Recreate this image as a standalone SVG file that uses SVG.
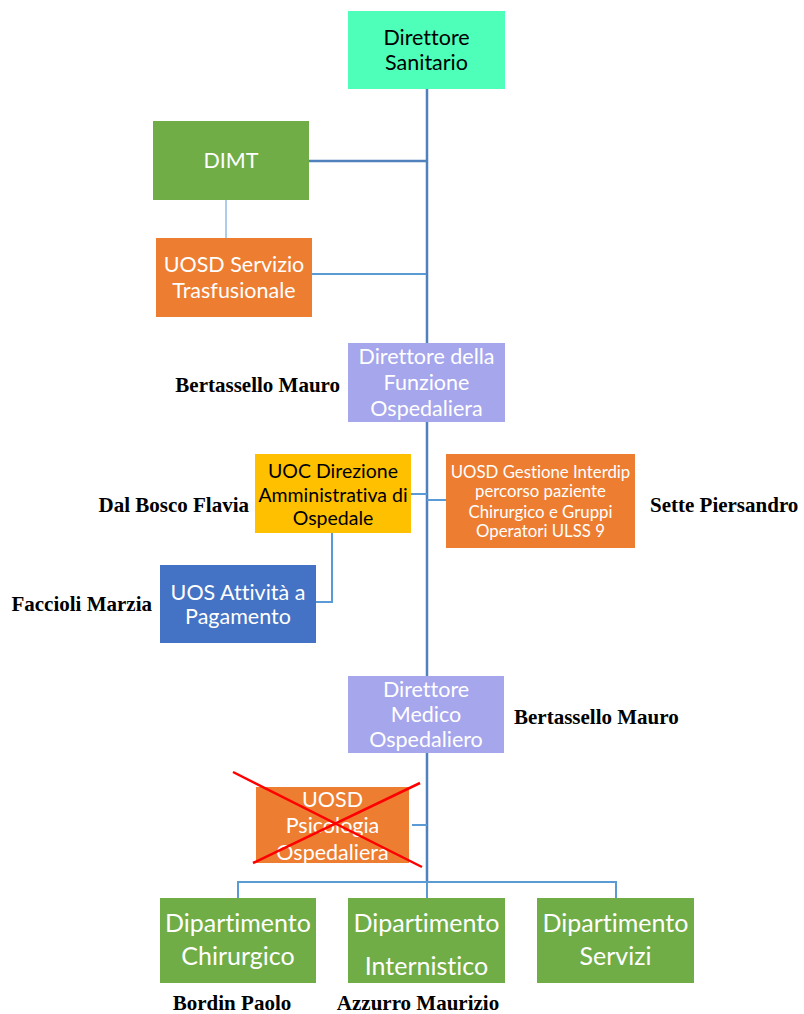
<svg xmlns="http://www.w3.org/2000/svg" width="804" height="1014" viewBox="0 0 804 1014">
<style>
.t{font-family:Lato,"Open Sans",sans-serif;text-anchor:middle;dominant-baseline:central;font-variant-ligatures:none}
.w{fill:#ffffff}
.k{fill:#000000}
.n{font-family:"Liberation Serif",serif;font-weight:bold;font-size:21px;fill:#000;dominant-baseline:central}
.c{fill:none;stroke:#4f81bd;stroke-width:2.5}
.c2{fill:none;stroke:#5b9bd5;stroke-width:2}
.c1{fill:none;stroke:#5b9bd5;stroke-width:1}
</style>
<rect width="804" height="1014" fill="#ffffff"/>
<g id="connectors">
<line class="c" x1="427" y1="89" x2="427" y2="883"/>
<line class="c" x1="309" y1="161" x2="427" y2="161"/>
<line class="c1" x1="226" y1="200" x2="226" y2="238"/>
<line class="c2" x1="312" y1="274" x2="426" y2="274"/>
<line class="c2" x1="411" y1="494" x2="427" y2="494"/>
<polyline class="c2" points="332,533 332,602 316,602"/>
<line class="c2" x1="427" y1="500" x2="446" y2="500"/>
<line class="c2" x1="412" y1="825" x2="427" y2="825"/>
<polyline class="c2" points="238,898 238,882 616,882 616,898"/>
<line class="c2" x1="427" y1="882" x2="427" y2="898"/>
</g>
<g id="direttore-sanitario">
<rect x="348" y="11" width="157" height="78" fill="#4dffb8"/>
<text class="t k" font-size="21.5" x="426.5" y="37">Direttore</text>
<text class="t k" font-size="21.5" x="426.5" y="62">Sanitario</text>
</g>
<g id="dimt">
<rect x="153" y="121" width="156" height="79" fill="#70ad47"/>
<text class="t w" font-size="21.5" x="231" y="160">DIMT</text>
</g>
<g id="uosd-trasfusionale">
<rect x="156" y="238" width="156" height="79" fill="#ed7d31"/>
<text class="t w" font-size="21.5" x="234" y="264">UOSD Servizio</text>
<text class="t w" font-size="21.5" x="234" y="290">Trasfusionale</text>
</g>
<g id="direttore-funzione">
<rect x="348" y="343" width="157" height="79" fill="#a6a6ec"/>
<text class="t w" font-size="21.5" x="426.5" y="356">Direttore della</text>
<text class="t w" font-size="21.5" x="426.5" y="382">Funzione</text>
<text class="t w" font-size="21.5" x="426.5" y="408">Ospedaliera</text>
<text class="n" x="340" y="385" text-anchor="end">Bertassello Mauro</text>
</g>
<g id="uoc-direzione">
<rect x="255" y="454" width="156" height="79" fill="#ffc000"/>
<text class="t k" font-size="19.5" x="333" y="470">UOC Direzione</text>
<text class="t k" font-size="19.5" x="333" y="494">Amministrativa di</text>
<text class="t k" font-size="19.5" x="333" y="517">Ospedale</text>
<text class="n" x="249" y="505" text-anchor="end">Dal Bosco Flavia</text>
</g>
<g id="uos-attivita">
<rect x="160" y="565" width="156" height="78" fill="#4472c4"/>
<text class="t w" font-size="21.5" x="238" y="592">UOS Attività a</text>
<text class="t w" font-size="21.5" x="238" y="616">Pagamento</text>
<text class="n" x="152" y="604" text-anchor="end">Faccioli Marzia</text>
</g>
<g id="uosd-gestione">
<rect x="446" y="454" width="189" height="94" fill="#ed7d31"/>
<text class="t w" font-size="16.8" x="540.5" y="471">UOSD Gestione Interdip</text>
<text class="t w" font-size="16.8" x="540.5" y="490">percorso paziente</text>
<text class="t w" font-size="16.8" x="540.5" y="511">Chirurgico e Gruppi</text>
<text class="t w" font-size="16.8" x="540.5" y="530">Operatori ULSS 9</text>
<text class="n" x="650" y="505">Sette Piersandro</text>
</g>
<g id="direttore-medico">
<rect x="348" y="676" width="156" height="77" fill="#a6a6ec"/>
<text class="t w" font-size="21.5" x="426" y="689">Direttore</text>
<text class="t w" font-size="21.5" x="426" y="714">Medico</text>
<text class="t w" font-size="21.5" x="426" y="739">Ospedaliero</text>
<text class="n" x="514" y="717">Bertassello Mauro</text>
</g>
<g id="uosd-psicologia">
<rect x="256" y="787" width="153" height="76" fill="#ed7d31"/>
<text class="t w" font-size="21.5" x="332.5" y="799">UOSD</text>
<text class="t w" font-size="21.5" x="332.5" y="825">Psicologia</text>
<text class="t w" font-size="21.5" x="332.5" y="852">Ospedaliera</text>
<line x1="233" y1="772" x2="422" y2="867" stroke="#ff0000" stroke-width="2.5"/>
<line x1="253" y1="863" x2="420" y2="783" stroke="#ff0000" stroke-width="2.5"/>
</g>
<g id="dip-chirurgico">
<rect x="160" y="898" width="156" height="85" fill="#70ad47"/>
<text class="t w" font-size="25" x="238" y="922">Dipartimento</text>
<text class="t w" font-size="25" x="238" y="955">Chirurgico</text>
<text class="n" x="232" y="1003" text-anchor="middle">Bordin Paolo</text>
</g>
<g id="dip-internistico">
<rect x="348" y="898" width="157" height="85" fill="#70ad47"/>
<text class="t w" font-size="25" x="426.5" y="922">Dipartimento</text>
<text class="t w" font-size="25" x="426.5" y="965">Internistico</text>
<text class="n" x="418" y="1003" text-anchor="middle">Azzurro Maurizio</text>
</g>
<g id="dip-servizi">
<rect x="537" y="898" width="157" height="85" fill="#70ad47"/>
<text class="t w" font-size="25" x="615.5" y="922">Dipartimento</text>
<text class="t w" font-size="25" x="615.5" y="955">Servizi</text>
</g>
</svg>
